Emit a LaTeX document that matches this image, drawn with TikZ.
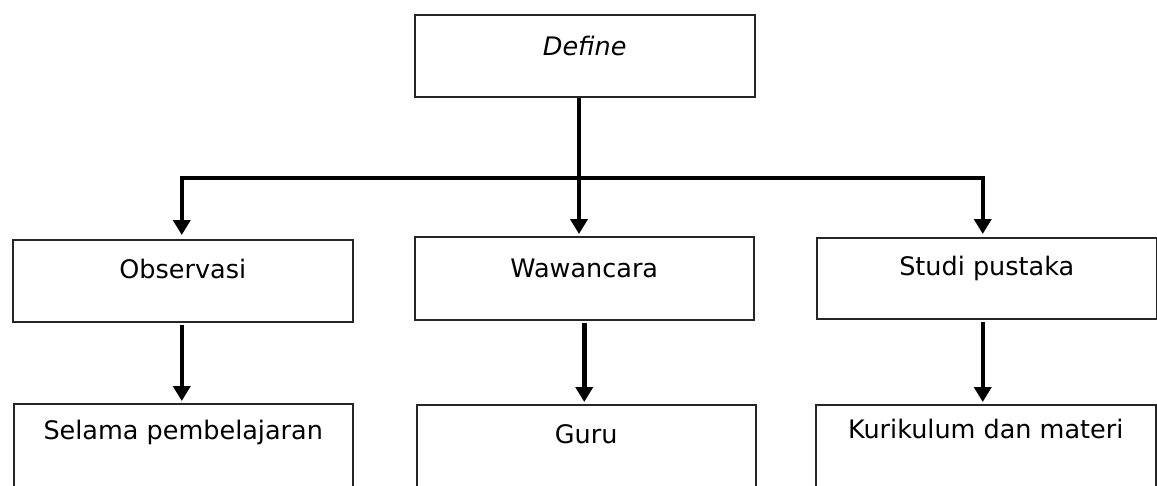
\documentclass[tikz,border=0pt]{standalone}
\usepackage{fontspec}
\setmainfont{DejaVu Sans}
\usetikzlibrary{arrows.meta}
\begin{document}
\begin{tikzpicture}[x=1pt,y=-1pt,
  box/.style={draw=black!85, line width=1.5pt, inner sep=0pt, anchor=north west,
              font=\fontsize{25.5}{30}\selectfont},
  conn/.style={line width=4.5pt},
  arr/.style={conn, -{Triangle[width=17pt,length=15pt]}, shorten >=2pt}]
\useasboundingbox (0,0) rectangle (1157,485);
\fill[white] (0,0) rectangle (1157,485);
\begin{scope}
\clip (0,0) rectangle (1157,485);
\node[box, minimum width=340pt, text height=41pt, text depth=41pt] (def) at (414,14) {\itshape Define};
\node[box, minimum width=340pt, text height=39pt, text depth=43pt] (obs) at (12,239) {Observasi};
\node[box, minimum width=339pt, text height=41pt, text depth=42pt] (waw) at (414,236) {Wawancara};
\node[box, minimum width=340pt, text height=38pt, text depth=43pt] (stu) at (816,237) {Studi pustaka};
\node[box, minimum width=339pt, text height=36pt, text depth=100pt] (sel) at (13,403) {Selama pembelajaran};
\node[box, minimum width=339pt, text height=39pt, text depth=100pt] (guru) at (416,404) {Guru};
\node[box, minimum width=340pt, text height=34pt, text depth=100pt] (kur) at (815,404) {Kurikulum dan materi};

\coordinate (hub) at (579,178);
\draw[conn] (def.south -| hub) -- (hub);
\draw[arr] (hub) -- (hub |- waw.north);
\draw[arr, shorten >=4pt] (hub) -| ([xshift=-1pt]obs.north);
\draw[arr, shorten >=3pt] (hub) -| ([xshift=-4pt]stu.north);

\draw[arr, shorten <=2pt] ([xshift=-1pt]obs.south) -- ([xshift=-1pt]obs.south |- sel.north);
\draw[arr, shorten <=2pt] (waw.south) -- (waw.south |- guru.north);
\draw[arr, shorten <=2pt] ([xshift=-4pt]stu.south) -- ([xshift=-4pt]stu.south |- kur.north);
\end{scope}
\end{tikzpicture}
\end{document}
